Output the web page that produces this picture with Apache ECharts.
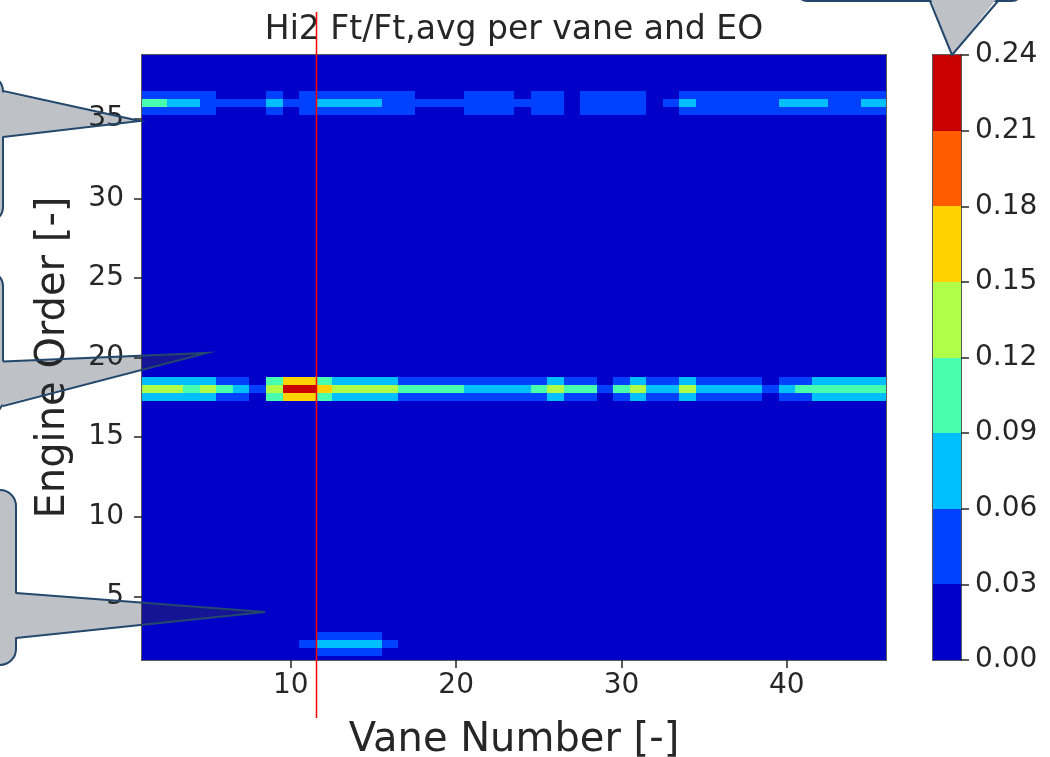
<!DOCTYPE html>
<html>
<head>
<meta charset="utf-8">
<title>Hi2 Ft/Ft,avg per vane and EO</title>
<script src="https://cdn.jsdelivr.net/npm/echarts@6/dist/echarts.min.js"></script>
<style>
  html, body { margin: 0; padding: 0; background: #fff; }
  #main { width: 1050px; height: 757px; }
</style>
</head>
<body>
<div id="main"></div>
<script>
// contour levels of the colorbar and the jet colours between them
var levels = [0, 0.03, 0.06, 0.09, 0.12, 0.15, 0.18, 0.21, 0.24];
var levelColors = ['#0000c8', '#0040ff', '#00bfff', '#48ffaf', '#afff48', '#ffd200', '#ff5c00', '#c80000'];

var xTicks = [10, 20, 30, 40];
var yTicks = [5, 10, 15, 20, 25, 30, 35];

var vaneMin = 1, vaneMax = 46;
var eoMin = 1, eoMax = 39, eoStep = 0.5;

// everything outside the three bands sits in the lowest level
var background = 0.01;

// Ft/Ft,avg per vane (1..46)
var eo2 = [0.01, 0.01, 0.01, 0.01, 0.01, 0.01, 0.01, 0.01, 0.01, 0.01,
           0.035, 0.065, 0.075, 0.075, 0.065, 0.04, 0.01, 0.01, 0.01, 0.01,
           0.01, 0.01, 0.01, 0.01, 0.01, 0.01, 0.01, 0.01, 0.01, 0.01,
           0.01, 0.01, 0.01, 0.01, 0.01, 0.01, 0.01, 0.01, 0.01, 0.01,
           0.01, 0.01, 0.01, 0.01, 0.01, 0.01];
var eo2Edge = [0.01, 0.01, 0.01, 0.01, 0.01, 0.01, 0.01, 0.01, 0.01, 0.01,
               0.01, 0.03, 0.04, 0.04, 0.035, 0.01, 0.01, 0.01, 0.01, 0.01,
               0.01, 0.01, 0.01, 0.01, 0.01, 0.01, 0.01, 0.01, 0.01, 0.01,
               0.01, 0.01, 0.01, 0.01, 0.01, 0.01, 0.01, 0.01, 0.01, 0.01,
               0.01, 0.01, 0.01, 0.01, 0.01, 0.01];

var eo18 = [0.135, 0.135, 0.13, 0.115, 0.12, 0.11, 0.08, 0.05, 0.14, 0.225,
            0.215, 0.17, 0.125, 0.125, 0.12, 0.12, 0.11, 0.105, 0.1, 0.095,
            0.075, 0.075, 0.07, 0.075, 0.1, 0.125, 0.1, 0.105, 0.045, 0.11,
            0.125, 0.085, 0.08, 0.12, 0.085, 0.075, 0.075, 0.07, 0.045, 0.08,
            0.1, 0.115, 0.115, 0.115, 0.115, 0.115];
var eo18Edge = [0.07, 0.07, 0.065, 0.06, 0.06, 0.055, 0.04, 0.025, 0.09, 0.16,
                0.155, 0.11, 0.065, 0.065, 0.06, 0.06, 0.055, 0.05, 0.05, 0.045,
                0.04, 0.04, 0.035, 0.04, 0.05, 0.065, 0.05, 0.055, 0.02, 0.055,
                0.065, 0.045, 0.04, 0.06, 0.045, 0.04, 0.04, 0.035, 0.02, 0.04,
                0.05, 0.06, 0.06, 0.06, 0.06, 0.06];

var eo36 = [0.095, 0.09, 0.085, 0.07, 0.05, 0.045, 0.04, 0.04, 0.06, 0.045,
            0.05, 0.07, 0.07, 0.065, 0.06, 0.05, 0.045, 0.04, 0.035, 0.033,
            0.045, 0.05, 0.045, 0.038, 0.045, 0.05, 0.02, 0.045, 0.055, 0.055,
            0.05, 0.02, 0.035, 0.06, 0.05, 0.05, 0.05, 0.05, 0.055, 0.065,
            0.062, 0.062, 0.05, 0.05, 0.07, 0.08];
var eo36Edge = [0.045, 0.045, 0.045, 0.04, 0.035, 0.02, 0.02, 0.02, 0.035, 0.02,
                0.035, 0.04, 0.04, 0.04, 0.035, 0.032, 0.032, 0.02, 0.02, 0.02,
                0.032, 0.032, 0.032, 0.02, 0.032, 0.032, 0.01, 0.032, 0.04, 0.04,
                0.032, 0.01, 0.02, 0.035, 0.032, 0.032, 0.032, 0.032, 0.035, 0.04,
                0.035, 0.035, 0.032, 0.032, 0.04, 0.045];

var redLineVane = 11.5;

var rowTable = {
  '1.5': eo2Edge, '2': eo2, '2.5': eo2Edge,
  '17.5': eo18Edge, '18': eo18, '18.5': eo18Edge,
  '35.5': eo36Edge, '36': eo36, '36.5': eo36Edge
};

var fieldData = [];
for (var eo = eoMin; eo <= eoMax; eo += eoStep) {
  var row = rowTable[String(eo)];
  for (var v = vaneMin; v <= vaneMax; v++) {
    fieldData.push([v, eo, row ? row[v - 1] : background]);
  }
}

var barData = [];
for (var i = 0; i < levelColors.length; i++) {
  barData.push([i]);
}

var pieces = [];
for (var k = 0; k < levelColors.length; k++) {
  pieces.push({ gte: levels[k], lt: levels[k + 1], color: levelColors[k] });
}

var FONT = 'DejaVu Sans';
var INK = '#262626';
var GRAY = '#bec1c6';
var EDGE = '#24486c';

function plainAxisLine() {
  return { show: true, onZero: false, lineStyle: { color: INK, width: 1.5 } };
}

var chart = echarts.init(document.getElementById('main'));

chart.setOption({
  backgroundColor: '#fff',
  animation: false,
  grid: [
    { left: 142, top: 55, width: 744, height: 605, outerBoundsMode: 'none', containLabel: false },
    { left: 933, top: 55, width: 28, height: 605, outerBoundsMode: 'none', containLabel: false }
  ],
  visualMap: {
    type: 'piecewise',
    show: false,
    seriesIndex: 0,
    dimension: 2,
    pieces: pieces
  },
  xAxis: [
    {
      gridIndex: 0, type: 'value', min: vaneMin, max: vaneMax,
      name: 'Vane Number [-]', nameLocation: 'middle', nameGap: 61,
      nameTextStyle: { fontSize: 40, color: INK, fontFamily: FONT },
      axisLine: plainAxisLine(),
      axisTick: { show: true, length: 8, customValues: xTicks, lineStyle: { color: INK, width: 1.5 } },
      axisLabel: { fontSize: 28, margin: 12, color: INK, fontFamily: FONT, customValues: xTicks },
      splitLine: { show: false }
    },
    {
      gridIndex: 0, type: 'value', position: 'top', min: vaneMin, max: vaneMax,
      axisLine: plainAxisLine(), axisTick: { show: false }, axisLabel: { show: false },
      splitLine: { show: false }
    },
    {
      gridIndex: 1, type: 'value', min: 0, max: 1,
      axisLine: plainAxisLine(), axisTick: { show: false }, axisLabel: { show: false },
      splitLine: { show: false }
    },
    {
      gridIndex: 1, type: 'value', position: 'top', min: 0, max: 1,
      axisLine: plainAxisLine(), axisTick: { show: false }, axisLabel: { show: false },
      splitLine: { show: false }
    }
  ],
  yAxis: [
    {
      gridIndex: 0, type: 'value', min: eoMin, max: eoMax,
      name: 'Engine Order [-]', nameLocation: 'middle', nameGap: 68,
      nameTextStyle: { fontSize: 40, color: INK, fontFamily: FONT },
      axisLine: plainAxisLine(),
      axisTick: { show: true, length: 8, customValues: yTicks, lineStyle: { color: INK, width: 1.5 } },
      axisLabel: { fontSize: 28, margin: 18, color: INK, fontFamily: FONT, customValues: yTicks },
      splitLine: { show: false }
    },
    {
      gridIndex: 0, type: 'value', position: 'right', min: eoMin, max: eoMax,
      axisLine: plainAxisLine(), axisTick: { show: false }, axisLabel: { show: false },
      splitLine: { show: false }
    },
    {
      gridIndex: 1, type: 'value', position: 'right', min: 0, max: 0.24,
      axisLine: plainAxisLine(),
      axisTick: { show: true, length: 8, customValues: levels, lineStyle: { color: INK, width: 1.5 } },
      axisLabel: {
        fontSize: 28, margin: 14, color: INK, fontFamily: FONT, customValues: levels,
        formatter: function (val) { return val.toFixed(2); }
      },
      splitLine: { show: false }
    },
    {
      gridIndex: 1, type: 'value', position: 'left', min: 0, max: 0.24,
      axisLine: plainAxisLine(), axisTick: { show: false }, axisLabel: { show: false },
      splitLine: { show: false }
    }
  ],
  series: [
    {
      type: 'custom',
      xAxisIndex: 0,
      yAxisIndex: 0,
      progressive: 0,
      clip: true,
      encode: { x: 0, y: 1 },
      data: fieldData,
      renderItem: function (params, api) {
        var vane = api.value(0), order = api.value(1);
        var a = api.coord([vane - 0.5, order + eoStep / 2]);
        var b = api.coord([vane + 0.5, order - eoStep / 2]);
        // snap to whole pixels so neighbouring cells meet without seams
        var x0 = Math.round(a[0]), y0 = Math.round(a[1]);
        var x1 = Math.round(b[0]), y1 = Math.round(b[1]);
        var shape = echarts.graphic.clipRectByRect(
          { x: x0, y: y0, width: x1 - x0, height: y1 - y0 },
          { x: params.coordSys.x, y: params.coordSys.y, width: params.coordSys.width, height: params.coordSys.height }
        );
        return shape && {
          type: 'rect', shape: shape,
          style: { fill: api.visual('color') },
          silent: true
        };
      }
    },
    {
      type: 'custom',
      xAxisIndex: 2,
      yAxisIndex: 2,
      data: barData,
      renderItem: function (params, api) {
        var idx = api.value(0);
        var a = api.coord([0, levels[idx + 1]]);
        var b = api.coord([1, levels[idx]]);
        return { type: 'rect', shape: { x: a[0], y: Math.round(a[1]), width: b[0] - a[0], height: Math.round(b[1]) - Math.round(a[1]) },
                 style: { fill: levelColors[idx] } };
      }
    }
  ]
});

// annotation layer: callouts, title and the red marker line
var plotLeft = 142;
function yAt(p, tip, x) {
  return p[1] + (tip[1] - p[1]) * (x - p[0]) / (tip[0] - p[0]);
}
function callout(id, body, top, bottom, tip) {
  var items = [
    { type: 'rect', id: id + 'b', z: -10, shape: body, style: { fill: GRAY, stroke: EDGE, lineWidth: 2 } },
    { type: 'polygon', id: id + 'p', z: -9,
      shape: { points: [[top[0] - 6, top[1]], tip, [bottom[0] - 6, bottom[1]]] }, style: { fill: GRAY } },
    { type: 'polyline', id: id + 'l', z: 100,
      shape: { points: [top, tip, bottom] }, style: { stroke: EDGE, lineWidth: 2, fill: null } }
  ];
  if (tip[0] > plotLeft + 1) {
    items.push({ type: 'polygon', id: id + 'i', z: 99,
      shape: { points: [[plotLeft, yAt(top, tip, plotLeft)], tip, [plotLeft, yAt(bottom, tip, plotLeft)]] },
      style: { fill: 'rgba(30,30,120,0.65)' } });
  }
  return items;
}

var lineX = Math.round(chart.convertToPixel({ xAxisIndex: 0 }, redLineVane)) + 0.5;

var graphics = [].concat(
  callout('a', { x: -60, y: 76, width: 63, height: 146, r: 15 }, [3, 91], [3, 137], [140, 121]),
  callout('b', { x: -60, y: 272, width: 63, height: 142, r: 14 }, [3, 361.5], [3, 406], [207, 353]),
  callout('c', { x: -60, y: 490, width: 76, height: 175, r: 16 }, [16, 593], [16, 638], [265, 612]),
  [
    { type: 'rect', id: 'db', z: -10, shape: { x: 797, y: -60, width: 225, height: 61, r: 10 },
      style: { fill: GRAY, stroke: EDGE, lineWidth: 2 } },
    { type: 'polygon', id: 'dp', z: -9, shape: { points: [[930, -3], [952, 55], [998, -3]] }, style: { fill: GRAY } },
    { type: 'polyline', id: 'dl', z: 100, shape: { points: [[930, 1], [952, 55], [998, 1]] },
      style: { stroke: EDGE, lineWidth: 2, fill: null } },
    { type: 'text', id: 'title', z: 50,
      style: { text: 'Hi2 Ft/Ft,avg per vane and EO', x: 514, y: 30, align: 'center', verticalAlign: 'middle',
               font: '33px "DejaVu Sans"', fill: INK } },
    { type: 'line', id: 'red', z: 120,
      shape: { x1: lineX, y1: 12, x2: lineX, y2: 718 }, style: { stroke: '#ff0000', lineWidth: 1.5 } }
  ]
);

chart.setOption({ graphic: graphics });
</script>
</body>
</html>
